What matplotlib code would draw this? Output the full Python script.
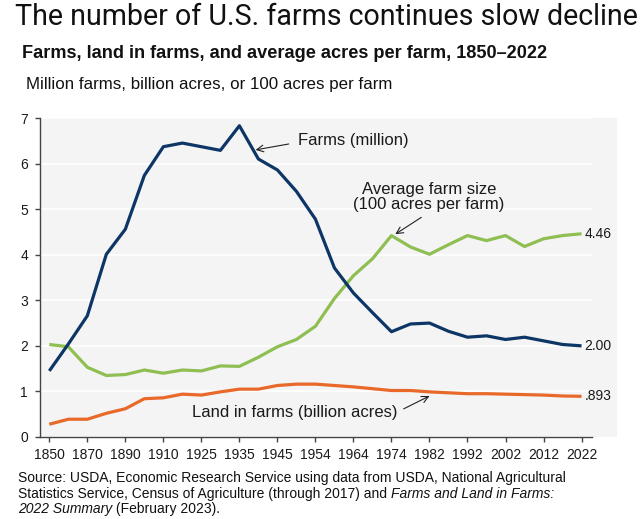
import matplotlib.pyplot as plt
from matplotlib.patches import Rectangle

# census years (evenly spaced on the chart)
years = [1850, 1860, 1870, 1880, 1890, 1900, 1910, 1920, 1925, 1930, 1935,
         1940, 1945, 1950, 1954, 1959, 1964, 1969, 1974, 1978, 1982, 1987,
         1992, 1997, 2002, 2007, 2012, 2017, 2022]
farms = [1.45, 2.04, 2.66, 4.01, 4.56, 5.74, 6.37, 6.45, 6.37, 6.29, 6.83,
         6.10, 5.86, 5.39, 4.78, 3.71, 3.16, 2.73, 2.31, 2.48, 2.50, 2.32,
         2.19, 2.22, 2.14, 2.19, 2.11, 2.03, 2.00]
avg_size = [2.03, 1.98, 1.53, 1.35, 1.37, 1.47, 1.40, 1.47, 1.45, 1.56, 1.55,
            1.75, 1.98, 2.14, 2.43, 3.04, 3.54, 3.91, 4.42, 4.17, 4.01, 4.22,
            4.42, 4.31, 4.42, 4.18, 4.35, 4.42, 4.46]
land = [0.28, 0.39, 0.39, 0.52, 0.62, 0.84, 0.86, 0.94, 0.92, 0.99, 1.05,
        1.05, 1.13, 1.16, 1.16, 1.13, 1.10, 1.06, 1.02, 1.02, 0.99, 0.97,
        0.95, 0.95, 0.94, 0.93, 0.92, 0.90, 0.893]
end_labels = ['2.00', '4.46', '.893']

BLUE = '#0d3565'
GREEN = '#8fbe52'
ORANGE = '#e8692a'
BG = '#f4f4f4'
FONT = 'Liberation Sans'
INK = '#1a1a1a'

W, H = 640, 519
fig = plt.figure(figsize=(W / 100, H / 100), dpi=100)

def fx(px):
    return px / W

def fy(py):
    return 1 - py / H

ax_l, ax_r, ax_t, ax_b = 40, 592, 118, 437
ax = fig.add_axes([fx(ax_l), fy(ax_b), fx(ax_r - ax_l), (ax_b - ax_t) / H])
ax.set_facecolor(BG)
# grey panel carries on past the axis to the right
fig.patches.append(Rectangle((fx(ax_r), fy(ax_b)), fx(617 - ax_r), (ax_b - ax_t) / H,
                             transform=fig.transFigure, facecolor=BG,
                             edgecolor='none', zorder=-1))

xs = list(range(len(years)))
ax.plot(xs, land, color=ORANGE, lw=2.3, solid_capstyle='butt', zorder=3)
ax.plot(xs, avg_size, color=GREEN, lw=2.3, solid_capstyle='butt', zorder=3)
ax.plot(xs, farms, color=BLUE, lw=2.3, solid_capstyle='butt', zorder=4)

ax.set_xlim(-0.49, 28.55)
ax.set_ylim(0, 7)
ax.set_yticks(range(0, 8))
ax.set_xticks(xs[::2])
ax.set_xticklabels([str(y) for y in years[::2]])
ax.grid(axis='y', color='white', lw=1.2)
ax.set_axisbelow(True)
for s in ['top', 'right']:
    ax.spines[s].set_visible(False)
for s in ['left', 'bottom']:
    ax.spines[s].set_color('#444444')
    ax.spines[s].set_linewidth(1.0)
ax.tick_params(axis='both', colors='#444444', labelcolor=INK,
               labelsize=10, length=3.6, width=1.0)
ax.tick_params(axis='x', pad=4)
ax.tick_params(axis='y', pad=5)
for lab in ax.get_xticklabels() + ax.get_yticklabels():
    lab.set_fontfamily(FONT)

# value labels at line ends
last = len(years) - 1
for vals, txt in zip([farms, avg_size, land], end_labels):
    ax.annotate(txt, (last, vals[-1]), xytext=(2, 0), textcoords='offset points',
                va='center', ha='left', fontsize=10, family=FONT, color=INK,
                annotation_clip=False)

arrow = dict(arrowstyle='->', color='#222222', lw=0.8, shrinkA=0, shrinkB=0)
ax.annotate('Farms (million)', xy=(10.85, 6.3), xytext=(13.1, 6.5),
            fontsize=12, family=FONT, va='center', ha='left', color=INK,
            arrowprops=dict(arrow, relpos=(0, 0.4), shrinkA=5))
ax.annotate('Average farm size\n(100 acres per farm)', xy=(18.2, 4.45),
            xytext=(19.98, 4.93), fontsize=12, family=FONT, va='bottom',
            ha='center', color=INK, linespacing=1.05,
            arrowprops=dict(arrow, relpos=(0.5, 0), shrinkA=3))
ax.annotate('Land in farms (billion acres)', xy=(20.0, 0.9), xytext=(18.3, 0.53),
            fontsize=12, family=FONT, va='center', ha='right', color=INK,
            arrowprops=dict(arrow, relpos=(1, 0.55), shrinkA=3))

# titles
fig.text(fx(15), fy(17), 'The number of U.S. farms continues slow decline',
         fontsize=20.6, family='Roboto', va='center', ha='left', color='#111111')
fig.text(fx(22), fy(53), 'Farms, land in farms, and average acres per farm, 1850\u20132022',
         fontsize=13.1, family=FONT, weight='bold', va='center', ha='left', color='#111111')
fig.text(fx(26), fy(85), 'Million farms, billion acres, or 100 acres per farm',
         fontsize=12.2, family=FONT, va='center', ha='left', color='#111111')

# source note with italic parts, placed piece by piece
renderer = fig.canvas.get_renderer()

def line_of(parts, x0, y0):
    x = x0
    for txt, style in parts:
        t = fig.text(fx(x), fy(y0), txt, fontsize=10, family=FONT, style=style,
                     va='center', ha='left', color='#111111')
        x += t.get_window_extent(renderer).width

line_of([('Source: USDA, Economic Research Service using data from USDA, National Agricultural', 'normal')], 18, 478)
line_of([('Statistics Service, Census of Agriculture (through 2017) and ', 'normal'),
         ('Farms and Land in Farms:', 'italic')], 18, 494)
line_of([('2022 Summary', 'italic'), (' (February 2023).', 'normal')], 18, 509)

fig.savefig('out.png', dpi=100)
